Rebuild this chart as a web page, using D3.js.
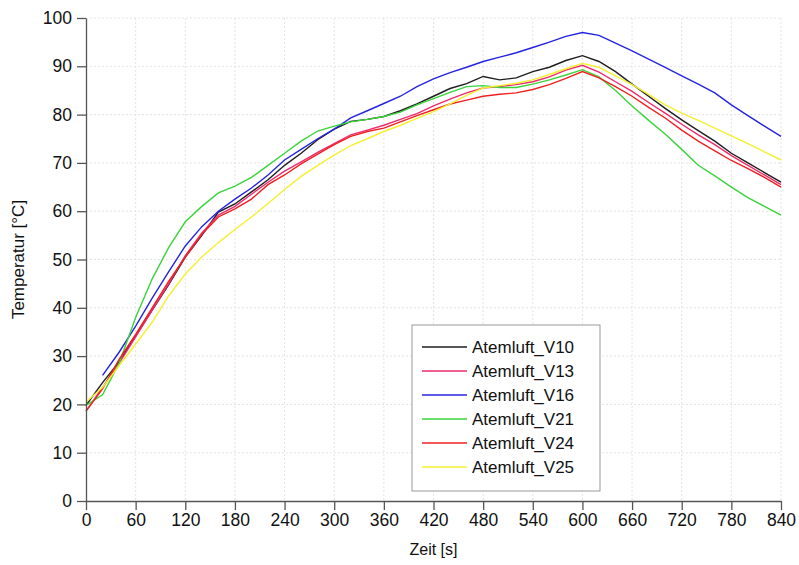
<!DOCTYPE html>
<html>
<head>
<meta charset="utf-8">
<script src="https://cdn.jsdelivr.net/npm/d3@7"></script>
<style>
  body { margin: 0; background: #fff; }
  svg { font-family: "Liberation Sans", Arial, sans-serif; }
</style>
</head>
<body>
<svg id="chart"></svg>
<script>
// Zeit [s]
const zeit = [0,20,40,60,80,100,120,140,160,180,200,220,240,260,280,300,320,340,360,380,400,
  420,440,460,480,500,520,540,560,580,600,620,640,660,680,700,720,740,760,780,800,820,840]

const v10 = [19.8,24.5,28.8,34.2,39.5,44.8,50.5,55.0,59.8,61.5,64.0,66.5,69.5,72.0,74.8,77.0,78.6,79.0,79.6,80.8,82.2,
  83.8,85.4,86.4,87.9,87.2,87.6,88.9,89.8,91.2,92.2,91.0,88.9,86.3,83.8,81.3,78.9,76.7,74.5,72.0,70.0,68.0,66.0]
const v13 = [18.6,23.5,28.5,34.0,39.5,45.0,50.8,55.5,59.2,61.0,63.5,66.0,68.3,70.2,72.2,74.0,75.8,76.8,77.8,79.0,80.2,
  81.8,83.2,84.5,85.5,85.8,86.2,86.8,87.8,89.2,90.2,88.8,86.8,84.8,82.5,80.3,78.0,75.8,73.8,71.5,69.5,67.5,65.5]
const v16 = [null,26.0,30.8,36.2,42.0,47.5,52.8,56.8,60.0,62.5,64.8,67.5,70.6,72.8,75.0,77.0,79.3,80.8,82.3,83.8,85.8,
  87.4,88.7,89.8,91.0,91.9,92.8,93.9,95.0,96.2,97.0,96.4,94.8,93.2,91.5,89.8,88.0,86.3,84.5,82.0,79.8,77.6,75.5]
const v21 = [19.8,22.0,28.5,38.0,46.0,52.5,57.8,61.0,63.8,65.2,67.0,69.5,72.0,74.5,76.6,77.6,78.5,79.0,79.6,80.5,82.0,
  83.3,84.6,85.8,86.0,85.6,85.6,86.3,87.2,88.2,89.3,87.8,85.0,81.8,78.8,76.0,72.8,69.5,67.3,65.0,62.8,61.0,59.2]
const v24 = [18.6,23.2,29.3,34.5,40.0,45.5,50.5,55.2,58.8,60.5,62.5,65.5,67.5,69.8,71.8,73.8,75.5,76.5,77.2,78.5,79.8,
  81.0,82.2,83.0,83.8,84.2,84.5,85.2,86.2,87.5,88.9,87.6,85.8,83.8,81.5,79.3,76.8,74.5,72.5,70.5,68.8,67.0,65.0]
const v25 = [20.5,23.5,28.0,32.5,37.0,42.5,47.0,50.5,53.5,56.2,58.8,61.6,64.5,67.2,69.5,71.6,73.6,75.0,76.5,77.8,79.2,
  80.6,82.2,84.0,85.5,86.0,86.5,87.2,88.3,89.5,90.6,89.8,88.0,86.2,84.2,82.0,80.3,78.8,77.2,75.6,74.0,72.3,70.6]

const namen = ['Atemluft_V10','Atemluft_V13','Atemluft_V16','Atemluft_V21','Atemluft_V24','Atemluft_V25']
const werte = [v10, v13, v16, v21, v24, v25]
const farben = ['#1e1e1e','#ee2a6e','#2424e0','#3ad43a','#f02020','#f4f030']

const xTicks = [0,60,120,180,240,300,360,420,480,540,600,660,720,780,840]
const yTicks = [0,10,20,30,40,50,60,70,80,90,100]

const width = 799, height = 565
const margin = {top: 18, right: 18, bottom: 64, left: 86}
const innerW = width - margin.left - margin.right
const innerH = height - margin.top - margin.bottom

const svg = d3.select('#chart').attr('width', width).attr('height', height)
const g = svg.append('g').attr('transform', `translate(${margin.left},${margin.top})`)

const x = d3.scaleLinear().domain([0, 840]).range([0, innerW])
const y = d3.scaleLinear().domain([0, 100]).range([innerH, 0])

// grid
g.append('g').selectAll('line').data(xTicks.slice(1)).enter().append('line')
  .attr('x1', d => x(d)).attr('x2', d => x(d))
  .attr('y1', 0).attr('y2', innerH)
  .attr('stroke', '#e4e4e4').attr('stroke-dasharray', '2,2')
g.append('g').selectAll('line').data(yTicks.slice(1)).enter().append('line')
  .attr('x1', 0).attr('x2', innerW)
  .attr('y1', d => y(d)).attr('y2', d => y(d))
  .attr('stroke', '#e4e4e4').attr('stroke-dasharray', '2,2')

// lines
const line = d3.line()
  .defined(d => d[1] !== null)
  .x(d => x(d[0]))
  .y(d => y(d[1]))

werte.forEach((serie, i) => {
  g.append('path')
    .attr('d', line(zeit.map((t, j) => [t, serie[j]])))
    .attr('fill', 'none')
    .attr('stroke', farben[i])
    .attr('stroke-width', 1.4)
})

// axes
const xAxis = d3.axisBottom(x).tickValues(xTicks).tickSizeInner(9).tickSizeOuter(0).tickPadding(4)
const yAxis = d3.axisLeft(y).tickValues(yTicks).tickSizeInner(9).tickSizeOuter(0).tickPadding(5)

const xg = g.append('g').attr('transform', `translate(0,${innerH})`).call(xAxis)
const yg = g.append('g').call(yAxis)
;[xg, yg].forEach(a => {
  a.selectAll('path, line').attr('stroke', '#555').attr('stroke-width', 1.3)
  a.selectAll('text').attr('font-size', 17.5).attr('fill', '#111')
    .attr('font-family', '"Liberation Sans", Arial, sans-serif')
})

svg.append('text')
  .attr('x', margin.left + innerW / 2).attr('y', 555)
  .attr('text-anchor', 'middle').attr('font-size', 16).attr('fill', '#111')
  .text('Zeit [s]')

svg.append('text')
  .attr('transform', `translate(24,${margin.top + innerH / 2}) rotate(-90)`)
  .attr('text-anchor', 'middle').attr('font-size', 17).attr('fill', '#111')
  .text('Temperatur [°C]')

// legend
const legend = svg.append('g').attr('transform', 'translate(412,325)')
legend.append('rect')
  .attr('width', 188).attr('height', 166)
  .attr('fill', '#fff').attr('stroke', '#999').attr('stroke-width', 1)

namen.forEach((n, i) => {
  const ly = 22 + i * 24
  legend.append('line')
    .attr('x1', 10).attr('x2', 55).attr('y1', ly).attr('y2', ly)
    .attr('stroke', farben[i]).attr('stroke-width', 1.4)
  legend.append('text')
    .attr('x', 60).attr('y', ly + 6)
    .attr('font-size', 17).attr('fill', '#111')
    .text(n)
})
</script>
</body>
</html>
